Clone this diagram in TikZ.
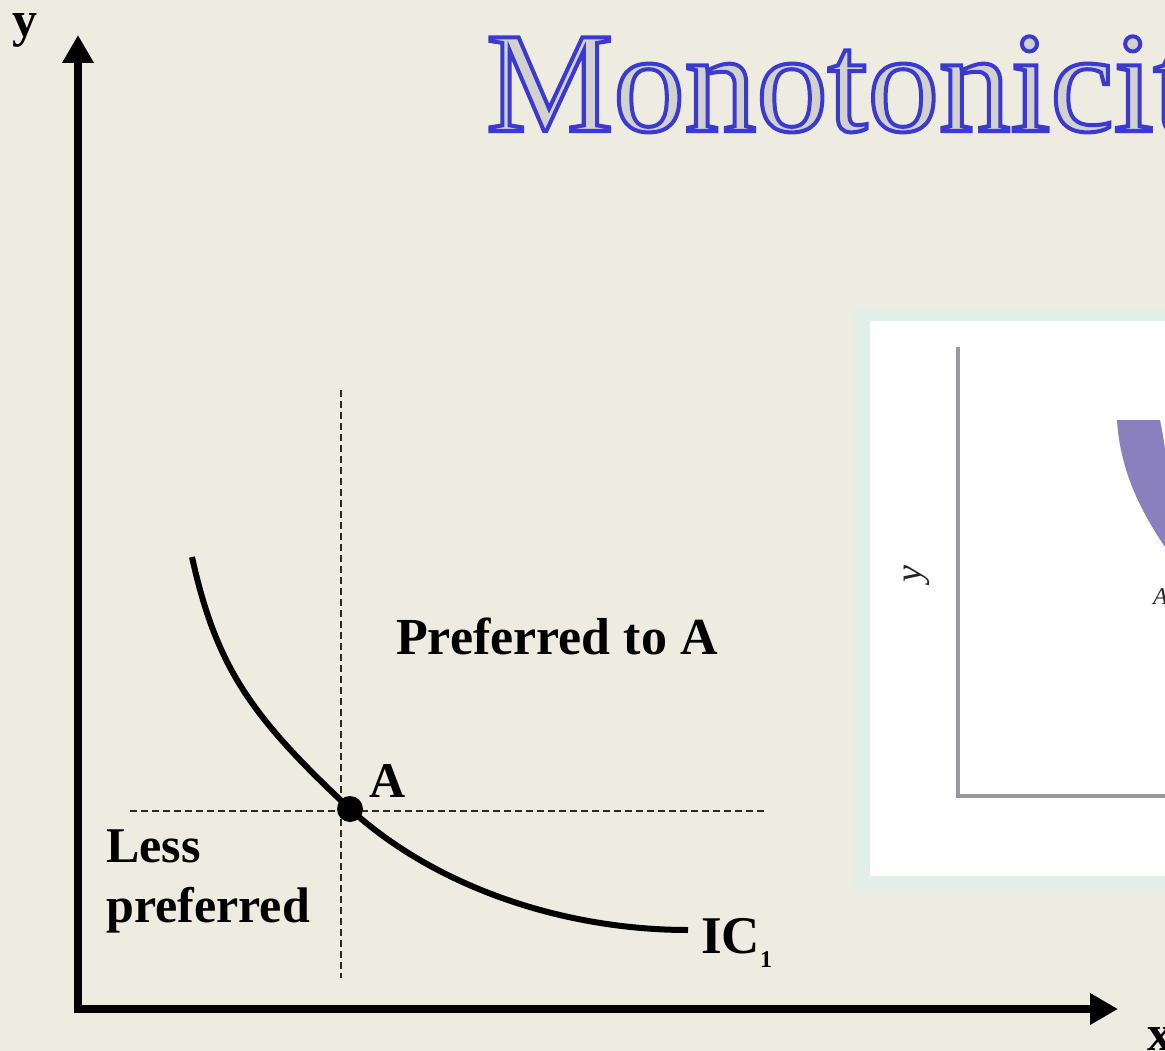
\documentclass[tikz,border=0pt]{standalone}
\usepackage{fontspec}
\setmainfont{Liberation Serif}
\usetikzlibrary{arrows.meta}
\definecolor{bg}{RGB}{238,235,224}
\definecolor{insetbg}{RGB}{226,239,232}
\definecolor{titlefill}{RGB}{210,209,205}
\definecolor{axisgray}{RGB}{152,152,158}
\definecolor{crescent}{RGB}{138,128,190}
\definecolor{dashgray}{RGB}{40,40,40}
\newcommand{\myoutline}[1]{{\color{titlefill}\special{pdf:literal direct 2 Tr 4 w 0.227 0.227 0.816 RG}#1\special{pdf:literal direct 0 Tr}}}
\tikzset{
  lab/.style={font=\bfseries\fontsize{50}{60}\selectfont, inner sep=0pt, text=black},
  axisline/.style={line width=8pt, line join=miter, {Triangle[length=28pt,width=30pt]}-{Triangle[length=28pt,width=30pt]}},
  guide/.style={line width=1.3pt, dashgray, dash pattern=on 7pt off 4pt},
  iccurve/.style={line width=6pt, black},
  pointdot/.style={circle, fill=black, minimum size=26pt, inner sep=0pt},
  insetaxis/.style={line width=4pt, axisgray, line join=miter}
}
\begin{document}
\begin{tikzpicture}[x=1pt, y=-1pt]
\fill[bg] (0,0) rectangle (1165,1051);
\useasboundingbox (0,0) rectangle (1165,1051);

% title
\node[anchor=base west, inner sep=0pt, font=\fontsize{143}{143}\selectfont] (title) at (486,131) {\myoutline{Monotonicity}};

% inset picture
\fill[insetbg] (853,309) rectangle (1165,889);
\fill[white] (870,321) rectangle (1165,876);
\draw[insetaxis] (958,347) -- (958,796) -- (1166,796);
\fill[crescent] (1117,420) -- (1160,420) .. controls (1162,430) and (1164,440) .. (1165,450) -- (1165,547) .. controls (1140,510) and (1120,470) .. (1117,420) -- cycle;
\node[rotate=90, inner sep=0pt, text=black!85, font=\itshape\fontsize{38}{38}\selectfont] (iny) at (917,574) {y};
\node[anchor=base west, inner sep=0pt, text=black!85, font=\itshape\fontsize{24}{24}\selectfont] (inA) at (1153,604) {A};

% axes
\coordinate (O) at (78,1009);
\coordinate (ytip) at (78,35);
\coordinate (xtip) at (1118,1009);
\draw[axisline] (ytip) -- (O) -- (xtip);
\node[lab, anchor=base west] (ylab) at (12,37) {y};
\node[lab, anchor=base west] (xlab) at (1147,1050) {x};

% guides
\coordinate (vtop) at (341,390);
\coordinate (vbot) at (341,978);
\coordinate (hl) at (130,811);
\coordinate (hr) at (765,811);
\draw[guide] (vtop) -- (vbot);
\draw[guide] (hl) -- (hr);

% indifference curve
\node[pointdot] (A) at (350,809) {};
\coordinate (icstart) at (192,557);
\coordinate (icend) at (688,930);
\draw[iccurve] (icstart) .. controls (216.7,669.4) and (253,718) .. (A.center)
  .. controls (436.5,888) and (565,930) .. (icend);

% labels
\node[lab, anchor=base west] (Alab) at (369,797) {A};
\node[lab, anchor=base west, font=\bfseries\fontsize{52}{60}\selectfont] (pref) at (396,654) {Preferred to A};
\node[lab, anchor=north west, align=left] (less) at (106,830) {Less\\preferred};
\node[lab, anchor=base west, font=\bfseries\fontsize{53}{60}\selectfont] (ic) at (701,953) {IC\raisebox{-14pt}{\fontsize{24}{24}\selectfont 1}};
\end{tikzpicture}
\end{document}
